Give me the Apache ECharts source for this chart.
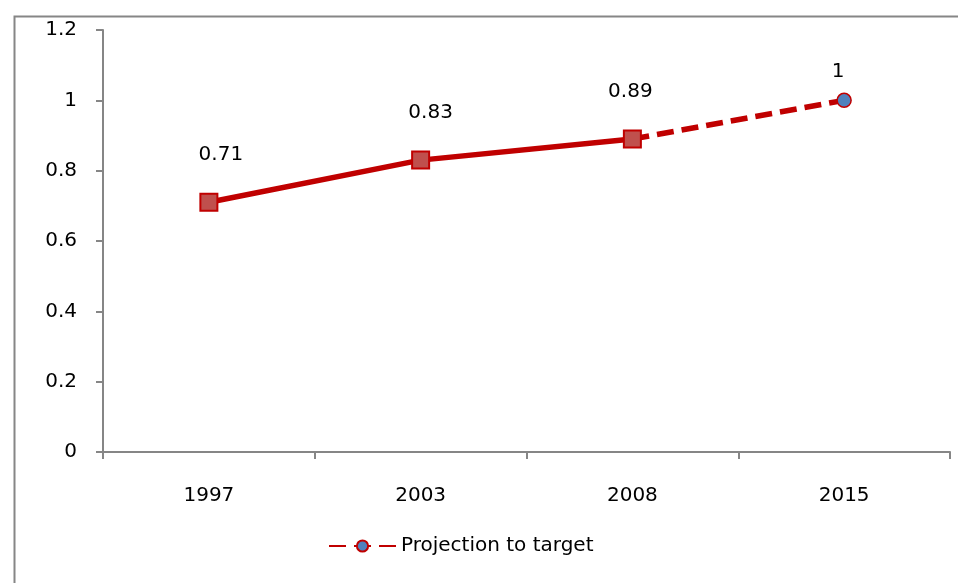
<!DOCTYPE html>
<html>
<head>
<meta charset="utf-8">
<script src="https://cdn.jsdelivr.net/npm/echarts@6/dist/echarts.min.js"></script>
<style>html,body{margin:0;padding:0;background:#fff}#c{width:958px;height:583px}</style>
</head>
<body>
<div id="c"></div>
<script>
const categories = ['1997', '2003', '2008', '2015'];
const actualValues = [0.71, 0.83, 0.89, null];
const projectionValues = [null, null, 0.89, 1.0];
const yTicks = [0, 0.2, 0.4, 0.6, 0.8, 1, 1.2];

const FONT = 'DejaVu Sans';
const chart = echarts.init(document.getElementById('c'));

const actualLabelOffsets = [[12, 0], [10, 0], [-2, 0], [0, 0]];

chart.setOption({
  animation: false,
  backgroundColor: '#fff',
  graphic: [{
    type: 'rect', left: 12, top: 14, z: -1,
    shape: { width: 980, height: 620 },
    style: { fill: 'none', stroke: '#868686', lineWidth: 2 }
  }],
  grid: { left: 103, top: 30, right: 8, bottom: 131, containLabel: false },
  legend: {
    data: ['Projection to target'],
    left: 323, top: 531,
    itemWidth: 67, itemHeight: 14, itemGap: 10,
    textStyle: { fontFamily: FONT, fontSize: 20, color: '#000', padding: [0, 0, 0, 0] }
  },
  xAxis: {
    type: 'category',
    data: categories,
    boundaryGap: true,
    axisLine: { lineStyle: { color: '#868686', width: 2 } },
    axisTick: { show: true, length: 7, lineStyle: { color: '#868686', width: 2 } },
    axisLabel: { fontFamily: FONT, fontSize: 20, color: '#000', margin: 34 },
    splitLine: { show: false }
  },
  yAxis: {
    type: 'value',
    min: 0, max: 1.2, interval: 0.2,
    axisLine: { show: true, lineStyle: { color: '#868686', width: 2 } },
    axisTick: { show: true, length: 7, lineStyle: { color: '#868686', width: 2 } },
    axisLabel: {
      fontFamily: FONT, fontSize: 20, color: '#000', margin: 26,
      formatter: function (v) {
        const t = yTicks.find(x => Math.abs(x - v) < 1e-9);
        return t === undefined ? '' : String(t);
      }
    },
    splitLine: { show: false }
  },
  series: [
    {
      name: 'Actual',
      type: 'line',
      data: actualValues.map((v, i) => v === null ? null : {
        value: v,
        label: { offset: actualLabelOffsets[i] }
      }),
      symbol: 'rect',
      symbolSize: 17,
      lineStyle: { color: '#C00000', width: 5.5 },
      itemStyle: { color: '#C0504D', borderColor: '#C00000', borderWidth: 2 },
      label: {
        show: true, position: 'top', distance: 28,
        fontFamily: FONT, fontSize: 20, color: '#000',
        formatter: p => String(p.value)
      },
      z: 3
    },
    {
      name: 'Projection to target',
      type: 'line',
      data: projectionValues.map((v, i) => {
        if (v === null) return null;
        if (i === 3) return { value: v, symbol: 'circle', symbolSize: 14,
          label: { show: true, offset: [-6, 0] } };
        return { value: v, symbol: 'none', label: { show: false } };
      }),
      symbol: 'circle',
      symbolSize: 14,
      showAllSymbol: true,
      lineStyle: { color: '#C00000', width: 5.5, type: [17, 8] },
      itemStyle: { color: '#4F81BD', borderColor: '#C00000', borderWidth: 1.5 },
      label: {
        show: false, position: 'top', distance: 11,
        fontFamily: FONT, fontSize: 20, color: '#000',
        formatter: p => String(p.value)
      },
      z: 2
    }
  ]
});
</script>
</body>
</html>
